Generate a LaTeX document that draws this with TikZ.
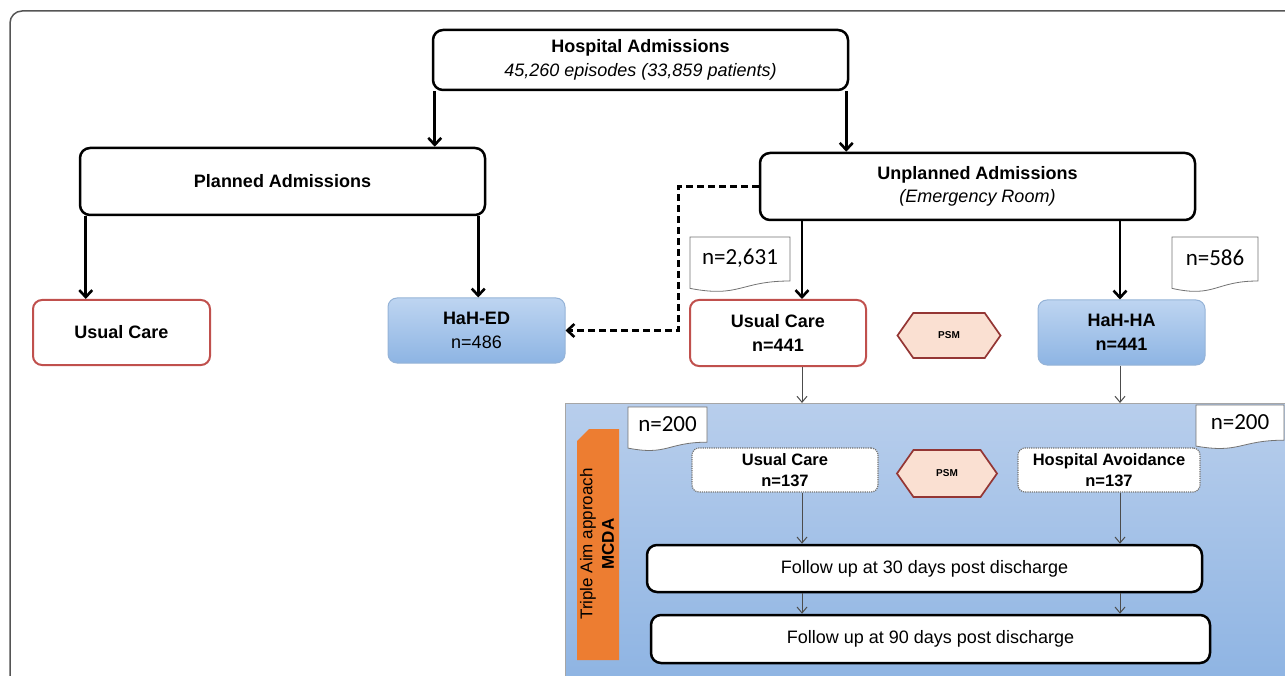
\documentclass[tikz,border=0pt]{standalone}
\usepackage{fontspec}
\setmainfont{Liberation Sans}
\newfontfamily\notefont{Carlito}
\usetikzlibrary{calc,arrows.meta,shapes.symbols}

\definecolor{careRed}{RGB}{192,80,77}
\definecolor{hahTop}{RGB}{190,213,241}
\definecolor{hahBot}{RGB}{141,180,227}
\definecolor{hahLine}{RGB}{149,179,215}
\definecolor{panelTop}{RGB}{184,206,236}
\definecolor{panelBot}{RGB}{139,178,226}
\definecolor{psmFill}{RGB}{250,224,210}
\definecolor{psmLine}{RGB}{148,54,52}
\definecolor{tabOrange}{RGB}{237,125,49}
\definecolor{frameGray}{RGB}{85,85,85}

% document shaped note: name, top left corner, width and height, text
\def\docnote(#1)(#2,#3)(#4,#5)#6{%
  \draw[draw=black!55, fill=white, line width=0.8pt] (#2,#3) -- ({#2+#4},#3) -- ({#2+#4},{#3+0.8*#5})
    .. controls ({#2+0.5*#4},{#3+0.8*#5}) and ({#2+0.5*#4},{#3+1.11*#5}) .. (#2,{#3+0.934*#5}) -- cycle;
  \node[notetext] (#1) at ({#2+0.5*#4},{#3+0.38*#5}) {#6};}

\tikzset{
  bigbox/.style={draw=black, line width=2.5pt, rounded corners=10pt, fill=white, align=center,
    inner sep=0pt, font=\fontsize{18}{23.5}\selectfont},
  carebox/.style={draw=careRed, line width=2pt, rounded corners=9pt, fill=white, align=center,
    inner sep=0pt, font=\bfseries\fontsize{18}{23.5}\selectfont},
  hahbox/.style={draw=hahLine, line width=1pt, rounded corners=9pt, top color=hahTop, bottom color=hahBot,
    align=center, inner sep=0pt, font=\fontsize{18}{23.5}\selectfont},
  dotbox/.style={draw=black!55, densely dotted, line width=1.2pt, rounded corners=7pt, fill=white,
    align=center, inner sep=0pt, font=\bfseries\fontsize{16.5}{20.5}\selectfont},
  psmbox/.style={signal, signal to=west and east, signal pointer angle=110, draw=psmLine, line width=1.7pt,
    fill=psmFill, inner sep=0pt, font=\bfseries\fontsize{10}{12}\selectfont},
  notetext/.style={font=\notefont\fontsize{23}{26}\selectfont, inner sep=0pt},
  bigarrow/.style={line width=2.6pt, -{Straight Barb[length=7pt,width=13pt]}},
  dasharrow/.style={line width=2.6pt, dash pattern=on 7pt off 4pt, -{Straight Barb[length=7pt,width=13pt]}},
  thinarrow/.style={line width=1pt, draw=black!70, -{Straight Barb[length=6pt,width=10pt]}}
}

\begin{document}
\begin{tikzpicture}[x=1pt, y=-1pt]
  %%%%% START %%%%%
  \useasboundingbox (0,0) rectangle (1285,676);
  \draw[frameGray, line width=1.5pt, rounded corners=12pt] (10,680) -- (10,11) -- (1290,11);

  % lower panel
  \node[draw=black!35, line width=0.8pt, top color=panelTop, bottom color=panelBot, anchor=north west,
    minimum width=740, minimum height=300, inner sep=0pt] (panel) at (565,403) {};
  \fill[tabOrange] (577,441) -- (589,429) -- (619,429) -- (619,660) -- (577,660) -- cycle;
  \node[rotate=90, align=center, inner sep=0pt, font=\fontsize{17}{21.5}\selectfont] (mcda) at (597,544)
    {Triple Aim approach\\\textbf{MCDA}};

  \node[bigbox, minimum width=415, minimum height=60] (ha) at (640.5,60)
    {\textbf{Hospital Admissions}\\\textit{45,260 episodes (33,859 patients)}};
  \node[bigbox, minimum width=405, minimum height=67, font=\bfseries\fontsize{18}{23.5}\selectfont] (planned)
    at (282.5,181.5) {Planned Admissions};
  \node[bigbox, minimum width=435, minimum height=67] (unplanned) at (977.5,186.5)
    {\textbf{Unplanned Admissions}\\\textit{(Emergency Room)}};

  \node[carebox, minimum width=177, minimum height=65] (ucleft) at (121.5,332.5) {Usual Care};
  \node[hahbox, minimum width=177, minimum height=65] (hahed) at (476.5,330.5) {\textbf{HaH-ED}\\n=486};
  \node[carebox, minimum width=176, minimum height=66] (uc441) at (778,333) {Usual Care\\n=441};
  \node[psmbox, minimum width=103, minimum height=45] (psmtop) at (949,335.5) {PSM};
  \node[hahbox, minimum width=167, minimum height=65, font=\bfseries\fontsize{18}{23.5}\selectfont] (hahha)
    at (1121.5,332.5) {HaH-HA\\n=441};

  \docnote(nunpl)(690,237)(100,55){n=2,631}
  \docnote(nhaha)(1172,237)(86,55){n=586}
  \docnote(nleft)(628,407)(79,44){n=200}
  \docnote(nright)(1196,405)(88,44){n=200}

  \node[dotbox, minimum width=186, minimum height=44] (uc137) at (785,470) {Usual Care\\n=137};
  \node[psmbox, minimum width=100, minimum height=47] (psmlow) at (947,473.5) {PSM};
  \node[dotbox, minimum width=182, minimum height=44] (ha137) at (1109,470) {Hospital Avoidance\\n=137};
  \node[bigbox, minimum width=555, minimum height=47] (fu30) at (924.5,568.5) {Follow up at 30 days post discharge};
  \node[bigbox, minimum width=559, minimum height=48] (fu90) at (930.5,639) {Follow up at 90 days post discharge};

  \coordinate (lcol) at (802,0);
  \coordinate (rcol) at (1120,0);

  \draw[bigarrow] ([xshift=3pt]ha.south west) -- ([xshift=3pt]ha.south west |- planned.north);
  \draw[bigarrow] ([xshift=-3pt]ha.south east) -- ([xshift=-3pt]ha.south east |- unplanned.north);
  \draw[bigarrow] ([xshift=7pt]planned.south west) -- ([xshift=7pt]planned.south west |- ucleft.north);
  \draw[bigarrow] ([xshift=-8pt]planned.south east) -- ([xshift=-8pt]planned.south east |- hahed.north);
  \draw[bigarrow] (unplanned.south -| lcol) -- (uc441.north -| lcol);
  \draw[bigarrow] (unplanned.south -| rcol) -- (hahha.north -| rcol);
  \draw[dasharrow] (unplanned.west) -- ++(-80,0) |- (hahed.east);

  \draw[thinarrow] (uc441.south -| lcol) -- (panel.north -| lcol);
  \draw[thinarrow] (hahha.south -| rcol) -- (panel.north -| rcol);
  \draw[thinarrow] (uc137.south -| lcol) -- (fu30.north -| lcol);
  \draw[thinarrow] (ha137.south -| rcol) -- (fu30.north -| rcol);
  \draw[thinarrow] (fu30.south -| lcol) -- (fu90.north -| lcol);
  \draw[thinarrow] (fu30.south -| rcol) -- (fu90.north -| rcol);
  %%%%% END %%%%%
\end{tikzpicture}
\end{document}
